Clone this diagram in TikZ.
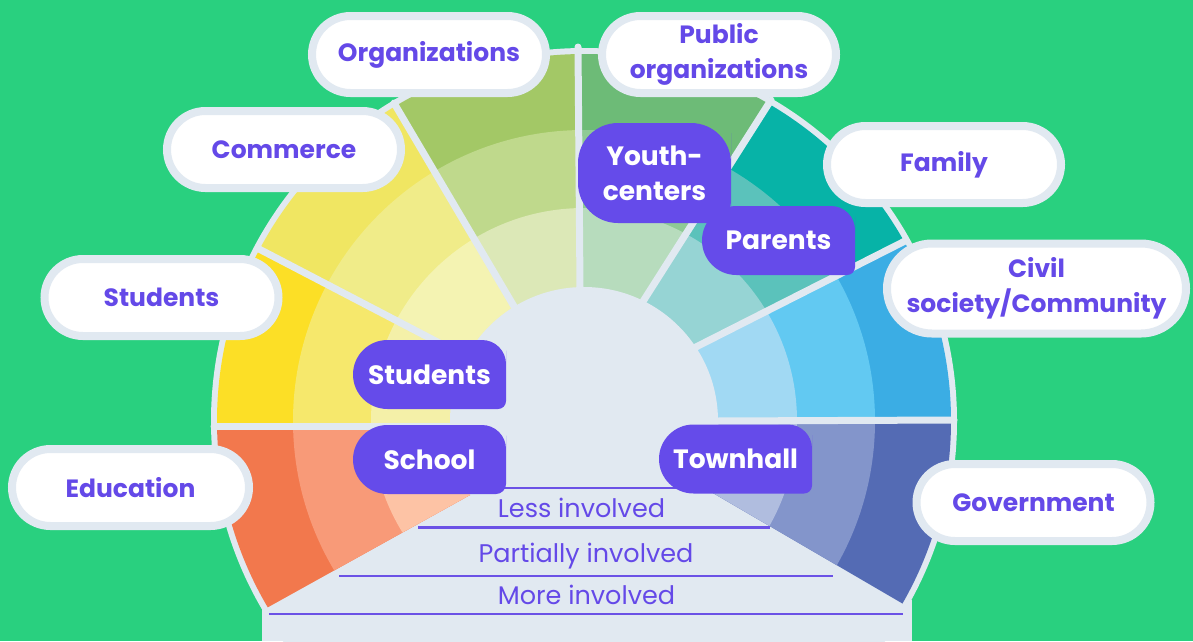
\documentclass[tikz,border=0pt]{standalone}
\usepackage{fontspec}
\setmainfont{Poppins}
\newfontfamily\popbold{Poppins Bold}
\usetikzlibrary{calc,shapes.misc}
\definecolor{bggreen}{HTML}{29D07F}
\definecolor{hub}{HTML}{E1E9F1}
\definecolor{purp}{HTML}{654BEA}
\definecolor{ptext}{HTML}{6449E8}
\definecolor{lineP}{HTML}{6B52E6}
\definecolor{eduD}{HTML}{F2784D}\definecolor{eduM}{HTML}{F89A78}\definecolor{eduL}{HTML}{FDC3A5}
\definecolor{stuD}{HTML}{FCDF26}\definecolor{stuM}{HTML}{F6E86C}\definecolor{stuL}{HTML}{F4F0A8}
\definecolor{comD}{HTML}{F0E662}\definecolor{comM}{HTML}{F0EC89}\definecolor{comL}{HTML}{F4F3B2}
\definecolor{orgD}{HTML}{A3C866}\definecolor{orgM}{HTML}{BFD98C}\definecolor{orgL}{HTML}{DCE8B7}
\definecolor{pubD}{HTML}{6DBB77}\definecolor{pubM}{HTML}{8FCA95}\definecolor{pubL}{HTML}{B7DCBD}
\definecolor{famD}{HTML}{07B3A7}\definecolor{famM}{HTML}{5BC2BB}\definecolor{famL}{HTML}{96D4D4}
\definecolor{civD}{HTML}{3BADE4}\definecolor{civM}{HTML}{62C9F2}\definecolor{civL}{HTML}{A1D9F3}
\definecolor{govD}{HTML}{546BB4}\definecolor{govM}{HTML}{8395CB}\definecolor{govL}{HTML}{B0BDDF}
\pgfdeclarelayer{bg}\pgfdeclarelayer{mid}\pgfsetlayers{bg,mid,main}
\newcommand\pillfill[4]{%
  \fill[purp] (#1.south) [rounded corners=#2] -- (#1.south west) -- (#1.north west) -- (#1.north)
    [rounded corners=#3] -- (#1.north east) -- (#1.east) [rounded corners=#4] -- (#1.south east) -- cycle;}
\tikzset{
  outlab/.style={rounded rectangle, fill=white, draw=hub, line width=8pt, minimum width=234pt,
    minimum height=77pt, inner sep=0pt, text=ptext, font=\popbold\fontsize{25}{35}\selectfont, align=center},
  inlab/.style={rectangle, inner sep=0pt, outer sep=0pt, minimum width=153pt, minimum height=69pt,
    text=white, font=\popbold\fontsize{26.5}{35}\selectfont, align=center},
  lvl/.style={text=ptext, font=\fontsize{25.5}{30}\selectfont, anchor=base, inner sep=0pt},
  sepline/.style={draw=hub, line width=7pt, line cap=round},
  lvline/.style={draw=lineP, line width=2.5pt},
}
\begin{document}
\begin{tikzpicture}[x=1pt,y=-1pt]
\useasboundingbox (0,0) rectangle (1193,641);
\coordinate (C) at (584,421);
\coordinate (in210) at (470,495); \coordinate (out210) at (263,610);
\coordinate (in180) at (450,426); \coordinate (out180) at (214,426);
\coordinate (in150) at (472,360); \coordinate (out150) at (259,249);
\coordinate (in120) at (515,308); \coordinate (out120) at (394,103);
\coordinate (in90) at (580,288);  \coordinate (out90) at (578,47);
\coordinate (in60) at (642,303);  \coordinate (out60) at (771,100);
\coordinate (in30) at (690,350);  \coordinate (out30) at (905,241);
\coordinate (in0) at (716,421);   \coordinate (out0) at (954,420);
\coordinate (in330) at (713,493); \coordinate (out330) at (905,605);
\begin{pgfonlayer}{bg}
\fill[bggreen] (0,0) rectangle (1193,641);
\fill[hub] (C) circle (373pt);
\fill[hub] (262,600) rectangle (912,641);
\foreach \a/\b/\cd/\cm/\cl in {210/180/eduD/eduM/eduL,180/150/stuD/stuM/stuL,150/120/comD/comM/comL,
  120/90/orgD/orgM/orgL,90/60/pubD/pubM/pubL,60/30/famD/famM/famL,30/0/civD/civM/civL,0/330/govD/govM/govL}{
  \begin{scope}
    \clip (in\a) -- ($(in\a)!1.4!(out\a)$) -- ($(in\b)!1.4!(out\b)$) -- (in\b) -- cycle;
    \fill[\cd] (C) circle (367pt);
    \fill[\cm] (C) circle (291pt);
    \fill[\cl] (C) circle (213pt);
  \end{scope}
}
\foreach \s in {0,30,60,90,120,150,180}{\draw[sepline] (in\s) -- (out\s);}
\fill[hub] (C) circle (134pt);
\draw[lvline] (470,488) -- (700,488);
\draw[lvline] (418,527.5) -- (770,527.5);
\draw[lvline] (339,576) -- (833,576);
\draw[lvline] (269,614) -- (903,614);
\end{pgfonlayer}
% level texts
\node[lvl] (less) at (581.5,517) {Less involved};
\node[lvl] (partial) at (586,562) {Partially involved};
\node[lvl] (more) at (586.5,604) {More involved};
% inner purple labels
\node[inlab, minimum height=100pt] (youth) at (654.5,173) {Youth-\\centers};
\node[inlab] (par) at (778.5,240.5) {Parents};
\node[inlab] (stui) at (429.5,374.5) {Students};
\node[inlab] (sch) at (429.5,459.5) {School};
\node[inlab] (town) at (735.5,459) {Townhall};
\begin{pgfonlayer}{mid}
\pillfill{youth}{40pt}{40pt}{22pt}
\pillfill{par}{34.5pt}{24pt}{8pt}
\pillfill{stui}{34.5pt}{24pt}{8pt}
\pillfill{sch}{34.5pt}{24pt}{10pt}
\pillfill{town}{34.5pt}{24pt}{8pt}
\end{pgfonlayer}
% outer white labels
\node[outlab] (org) at (429,54.5) {Organizations};
\node[outlab] (pub) at (719,54.5) {Public\\organizations};
\node[outlab] (com) at (284,149.5) {Commerce};
\node[outlab] (fam) at (944,164.5) {Family};
\node[outlab] (stuo) at (161.5,297.5) {Students};
\node[outlab, minimum width=299pt, minimum height=90pt] (civ) at (1036.5,288.5) {Civil\\society/Community};
\node[outlab, minimum width=237pt] (edu) at (130.5,487.5) {Education};
\node[outlab] (gov) at (1033.5,502.5) {Government};
\end{tikzpicture}
\end{document}
